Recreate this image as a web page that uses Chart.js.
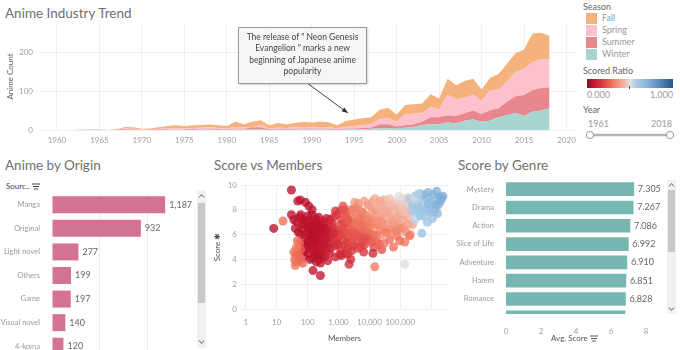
<!DOCTYPE html>
<html>
<head>
<meta charset="utf-8">
<script src="https://cdn.jsdelivr.net/npm/chart.js@4.4.1/dist/chart.umd.min.js"></script>
<style>
  body { margin: 0; width: 680px; height: 350px; overflow: hidden; background: #fff; position: relative;
         font-family: Lato, "Open Sans", sans-serif; }
  canvas { position: absolute; }
  .title { position: absolute; font-size: 13.5px; color: #707070; white-space: nowrap; line-height: 18px; }
  .small { position: absolute; font-size: 9px; color: #666; white-space: nowrap; line-height: 12px; }
  .swatch { position: absolute; left: 586px; width: 11px; height: 11px; }
  .note { position: absolute; left: 238px; top: 27px; width: 127px; height: 51px; border: 1px solid #9a9a9a;
          background: #f6f6f6; box-shadow: 1px 1px 2px rgba(0,0,0,0.18); text-align: center;
          font-size: 8.5px; line-height: 11.4px; color: #444; padding-top: 4px; box-sizing: content-box; }
  .track { position: absolute; width: 9px; background: #f1f1f1; }
  .thumb { position: absolute; left: 1px; width: 7px; background: #c8c8c8; }
</style>
</head>
<body>

<div class="title" style="left:5px; top:4px;">Anime Industry Trend</div>
<div class="title" style="left:5px; top:156px;">Anime by Origin</div>
<div class="title" style="left:214px; top:156px;">Score vs Members</div>
<div class="title" style="left:458px; top:156px;">Score by Genre</div>

<canvas id="trend" width="580" height="130" style="left:0; top:20px;"></canvas>
<div class="note">The release of " Neon Genesis<br>Evangelion " marks a new<br>beginning of Japanese anime<br>popularity</div>

<!-- legend -->
<div class="small" style="left:583px; top:1px; color:#666;">Season</div>
<div class="swatch" style="top:13px; background:#f5b27c;"></div>
<div class="small" style="left:602px; top:12px; color:#999;">Fall</div>
<div class="swatch" style="top:25px; background:#fdc1cc;"></div>
<div class="small" style="left:602px; top:24px; color:#999;">Spring</div>
<div class="swatch" style="top:37px; background:#e8888e;"></div>
<div class="small" style="left:602px; top:36px; color:#999;">Summer</div>
<div class="swatch" style="top:49px; background:#a9d5d0;"></div>
<div class="small" style="left:602px; top:48px; color:#999;">Winter</div>
<div class="small" style="left:583px; top:65px; color:#666;">Scored Ratio</div>
<div style="position:absolute; left:587px; top:79px; width:86px; height:9px;
     background:linear-gradient(to right,#a50026 0%,#c81e32 10%,#e14646 20%,#f0785f 30%,#f5af9b 42%,#e1dede 50%,#aacde6 58%,#87b4dc 70%,#28558c 100%);"></div>
<div style="position:absolute; left:629px; top:86px; width:1px; height:3px; background:#555;"></div>
<div class="small" style="left:587px; top:89px; color:#999;">0.000</div>
<div class="small" style="left:643px; top:89px; width:30px; text-align:right; color:#999;">1.000</div>
<div class="small" style="left:583px; top:104px; color:#666;">Year</div>
<div class="small" style="left:588px; top:118px; color:#999;">1961</div>
<div class="small" style="left:642px; top:118px; width:30px; text-align:right; color:#999;">2018</div>
<svg style="position:absolute; left:584px; top:129px;" width="94" height="12">
  <line x1="6" y1="6" x2="86" y2="6" stroke="#b5b5b5" stroke-width="2.5"/>
  <circle cx="6" cy="6" r="3.6" fill="#fff" stroke="#999" stroke-width="1"/>
  <circle cx="86" cy="6" r="3.6" fill="#fff" stroke="#999" stroke-width="1"/>
</svg>

<!-- origin -->
<div class="small" style="left:6px; top:180px; font-size:8px; color:#444;">Sourc..
  <svg width="8" height="7" style="vertical-align:middle"><path d="M0 1h8M1 3.5h6M2 6h4" stroke="#444" stroke-width="1"/></svg></div>
<canvas id="origin" width="195" height="165" style="left:0; top:193px;"></canvas>
<div class="track" style="left:197px; top:190px; height:158px;"></div>
<div class="thumb" style="left:198px; top:203px; height:100px;"></div>
<svg style="position:absolute; left:197px; top:192px;" width="9" height="8"><path d="M2 5.5l2.5-3 2.5 3" fill="none" stroke="#666" stroke-width="1"/></svg>
<svg style="position:absolute; left:197px; top:338px;" width="9" height="8"><path d="M2 2.5l2.5 3 2.5-3" fill="none" stroke="#666" stroke-width="1"/></svg>

<!-- scatter -->
<canvas id="scatter" width="250" height="172" style="left:205px; top:178px;"></canvas>

<!-- genre -->
<canvas id="genre" width="212" height="175" style="left:450px; top:175px;"></canvas>
<div class="track" style="left:667px; top:180px; height:134px;"></div>
<div class="thumb" style="left:668px; top:190px; height:62px;"></div>
<svg style="position:absolute; left:667px; top:181px;" width="9" height="8"><path d="M2 5.5l2.5-3 2.5 3" fill="none" stroke="#666" stroke-width="1"/></svg>
<svg style="position:absolute; left:667px; top:305px;" width="9" height="8"><path d="M2 2.5l2.5 3 2.5-3" fill="none" stroke="#666" stroke-width="1"/></svg>
<div class="small" style="left:551px; top:332px; font-size:8px; color:#555;">Avg. Score
  <svg width="8" height="7" style="vertical-align:middle"><path d="M0 1h8M1 3.5h6M2 6h4" stroke="#555" stroke-width="1"/></svg></div>

<script>
// ---- data: anime industry trend (count per season, per year) ----
const years  = [1961,1962,1963,1964,1965,1966,1967,1968,1969,1970,1971,1972,1973,1974,1975,1976,1977,1978,1979,1980,
                1981,1982,1983,1984,1985,1986,1987,1988,1989,1990,1991,1992,1993,1994,1995,1996,1997,1998,1999,2000,
                2001,2002,2003,2004,2005,2006,2007,2008,2009,2010,2011,2012,2013,2014,2015,2016,2017,2018];
const winter = [0,0,1,1,1,0,0,0,0,0,0,0,0,1,0,0,1,1,0,0, 1,1,1,2,0,1,0,1,1,1,1,1,0,1,2,2,3,4,4,5,
                6,8,13,15,15,19,17,24,27,21,24,33,38,44,36,47,50,56];
const summer = [0,0,0,0,0,0,1,1,1,0,1,1,1,1,1,2,1,2,2,1, 2,2,6,5,2,2,2,2,2,2,2,2,2,2,2,3,3,11,11,4,
                6,7,8,18,18,19,19,19,23,20,27,23,35,43,54,56,57,54];
const spring = [0,0,0,0,0,0,0,3,2,1,1,2,3,3,3,3,4,4,3,3, 5,4,1,6,2,3,3,4,5,4,5,4,2,5,6,7,9,13,15,13,
                28,27,22,27,20,52,43,40,40,34,52,48,51,63,66,72,74,71];
const fall   = [0,0,0,1,1,0,1,4,4,2,2,4,6,7,6,7,7,7,7,6, 13,8,13,12,8,12,10,11,13,12,14,13,8,15,17,18,18,24,27,18,
                24,24,25,32,28,42,36,43,42,29,31,40,47,47,51,73,69,61];
const trendXTicks = [1960,1965,1970,1975,1980,1985,1990,1995,2000,2005,2010,2015,2020];
const trendYTicks = [0, 100, 200];
const noteYear = 1994.3, noteValue = 43;

// ---- data: anime by origin ----
const origins = ['Manga', 'Original', 'Light novel', 'Others', 'Game', 'Visual novel', '4-koma'];
const originCounts = [1187, 932, 277, 199, 197, 140, 120];

// ---- data: score by genre ----
const genres = ['Mystery', 'Drama', 'Action', 'Slice of Life', 'Adventure', 'Harem', 'Romance', 'Comedy'];
const genreScores = [7.305, 7.267, 7.086, 6.992, 6.910, 6.851, 6.828, 6.80];
const genreTicks = [0, 2, 4, 6, 8];

// ---- data: score vs members, [members, score, scored ratio] ----
const memberTicks = [1, 10, 100, 1000, 10000, 100000, 1000000];
const scatterPoints = [
  [30,9.6,.05],[8,6.5,.06],[48,8.7,.06],[58,8.8,.07],[85,8.6,.05],[110,8.3,.06],[140,8.0,.07],[30,7.6,.06],[36,7.2,.05],
  [45,7.0,.08],[55,7.4,.06],[64,6.8,.09],[75,7.2,.05],[88,7.0,.07],[100,7.5,.06],[118,7.1,.08],[138,7.6,.05],[160,7.0,.06],
  [182,7.3,.09],[205,6.8,.07],[225,7.4,.05],[255,7.0,.08],[285,6.6,.06],[320,7.1,.1],[360,6.8,.07],[410,7.3,.09],[460,6.9,.11],
  [530,7.2,.1],[40,6.5,.07],[50,6.2,.05],[60,6.0,.08],[70,6.4,.06],[80,5.8,.05],[95,6.1,.07],[105,5.5,.06],[115,6.6,.05],
  [125,5.9,.08],[140,6.3,.06],[150,5.2,.07],[165,5.8,.05],[180,6.5,.08],[195,5.4,.06],[210,6.0,.07],[230,5.7,.05],[250,6.3,.09],
  [270,5.1,.06],[300,5.9,.08],[330,6.2,.07],[370,5.5,.1],[410,6.0,.08],[460,5.3,.11],[520,5.8,.09],[600,6.2,.12],[700,5.6,.12],
  [55,5.0,.08],[65,4.6,.06],[80,4.2,.07],[90,5.0,.05],[110,4.5,.06],[130,4.8,.08],[150,4.1,.05],[170,4.4,.07],[190,3.8,.06],
  [220,4.7,.08],[240,4.0,.05],[260,3.7,.07],[290,4.3,.06],[320,4.9,.09],[350,4.2,.08],[400,4.6,.1],[450,3.9,.09],[500,4.5,.11],
  [150,3.1,.06],[260,2.7,.07],[2200,3.6,.14],[2500,4.0,.13],[1600,4.5,.12],[800,4.2,.1],
  [110,5.1,.07],[130,5.6,.05],[145,6.8,.06],[170,5.0,.08],[200,5.3,.05],[240,6.7,.07],[275,5.6,.06],[300,4.7,.09],[340,5.2,.07],
  [380,6.5,.08],[430,5.0,.1],[480,6.4,.09],[560,4.9,.11],[650,6.6,.1],[750,5.1,.12],[850,6.0,.11],
  [120,6.2,.06],[135,5.3,.07],[155,6.0,.05],[175,5.5,.06],[190,6.9,.07],[215,5.0,.06],[235,6.4,.05],[265,5.9,.07],[290,6.5,.06],
  [310,5.4,.08],[350,6.0,.07],[390,5.7,.09],[95,5.3,.06],[75,6.9,.07],[60,7.6,.06],[100,6.6,.05],
  [70,5.2,.06],[85,4.8,.07],[120,4.0,.06],[180,4.7,.07],[210,4.3,.06],[280,5.0,.08],
  [40,3.5,.3],[42,3.8,.28],[45,4.1,.3],[43,4.4,.27],[48,4.7,.29],[50,3.9,.3],[52,4.3,.28],[55,5.3,.26],[38,4.0,.3],
  [47,5.5,.27],[60,4.8,.25],[70,3.7,.26],[36,4.6,.28],[16,7.1,.28],[44,5.0,.3],[58,4.1,.27],
  [600,6.9,.15],[700,7.4,.14],[800,6.4,.16],[950,5.7,.18],[900,7.6,.16],[1100,6.8,.2],[1300,7.2,.18],[1500,6.3,.22],[1800,7.8,.2],
  [2000,5.8,.25],[2300,6.9,.22],[2600,7.4,.28],[3000,6.0,.24],[3500,8.2,.3],[4000,5.5,.2],[4500,7.0,.26],[5000,6.5,.3],[6000,7.8,.28],
  [7000,5.2,.18],[8000,6.8,.3],[9000,8.4,.34],[10000,6.1,.27],[12000,7.3,.32],[14000,5.0,.2],[16000,8.0,.35],[1000,5.2,.16],
  [1200,4.8,.14],[1400,5.6,.2],[1700,6.6,.24],[2100,5.0,.18],[2700,4.7,.16],[3200,6.5,.27],[3800,7.7,.32],[4200,4.9,.2],
  [5500,5.9,.24],[6500,4.6,.15],[7500,7.1,.3],[9500,5.6,.22],[11000,6.6,.3],[13000,4.5,.12],[15000,3.4,.3],[18000,5.4,.26],
  [20000,7.6,.36],[22000,6.4,.3],[1150,7.9,.2],[2400,8.0,.3],[3300,8.6,.38],[25000,4.8,.22],[28000,8.3,.4],
  [1000,6.2,.18],[1300,6.0,.2],[1600,7.0,.22],[1900,5.4,.17],[2800,6.3,.25],[3600,5.8,.22],[4800,7.4,.3],[5800,6.2,.26],
  [7200,7.6,.33],[8500,5.8,.24],[10500,7.0,.33],[13500,6.0,.28],[17000,6.8,.32],[1250,4.3,.13],[2000,4.4,.15],[3000,5.1,.17],
  [6000,5.4,.2],[800,7.9,.15],[1400,8.3,.22],[4400,8.5,.35],[6800,8.7,.38],
  [1100,5.9,.19],[1350,6.6,.21],[1550,5.1,.17],[1750,7.4,.24],[2200,6.1,.22],[2500,5.4,.2],[2900,7.0,.27],[3400,6.2,.24],
  [3900,6.9,.29],[4300,5.9,.23],[4700,8.0,.33],[5200,5.0,.19],[5600,7.2,.3],[6300,6.7,.28],[6800,5.7,.22],[7800,6.4,.27],
  [8800,7.3,.33],[9800,6.8,.31],[11500,5.4,.24],[12500,7.9,.36],[14500,6.9,.33],[16500,5.9,.28],[19000,8.2,.4],[21000,5.2,.26],
  [23000,7.3,.37],[26000,7.8,.4],[29000,6.6,.34],[33000,7.3,.39],[38000,8.4,.43],[42000,6.4,.34],[48000,7.5,.41],[52000,8.2,.45],
  [58000,6.5,.35],[68000,8.6,.46],[72000,7.0,.4],[82000,8.3,.46],[88000,6.9,.38],[98000,7.7,.44],[105000,8.3,.47],[125000,6.6,.37],
  [145000,7.6,.45],[155000,8.7,.49],[175000,7.3,.43],[190000,8.1,.47],[3000,8.0,.32],[2000,7.2,.24],[1500,8.0,.22],[700,6.1,.13],
  [900,5.3,.14],[1100,4.4,.13],
  [12000,8.6,.38],[15000,8.9,.4],[20000,8.4,.42],[25000,7.0,.35],[30000,8.8,.42],[35000,6.2,.3],[40000,7.7,.4],[45000,5.6,.28],
  [50000,8.5,.44],[60000,6.9,.36],[70000,7.4,.42],[80000,5.9,.3],[90000,8.1,.45],[100000,6.5,.33],[110000,8.7,.47],[120000,7.2,.4],
  [140000,5.4,.3],[160000,8.3,.46],[180000,6.8,.38],[200000,7.8,.44],[30000,5.3,.28],[40000,6.8,.36],[55000,7.1,.38],[65000,8.0,.42],
  [75000,6.3,.32],[85000,7.5,.4],[95000,5.5,.28],[130000,7.9,.44],[150000,6.2,.34],[170000,9.0,.5],[140000,3.6,.5],[60000,5.0,.28],
  [35000,7.9,.4],[45000,8.9,.45],[25000,6.0,.32],[18000,7.0,.35],[22000,8.7,.4],[50000,6.0,.33],[120000,8.9,.48],[90000,9.1,.5],
  [230000,8.6,.48],[210000,6.0,.35],[200000,5.9,.3],[250000,6.8,.4],
  [200000,8.9,.58],[250000,8.4,.6],[300000,9.1,.62],[350000,7.8,.58],[400000,8.7,.64],[450000,9.3,.66],[500000,6.1,.62],
  [550000,8.2,.6],[600000,7.5,.58],[700000,8.9,.66],[800000,9.4,.7],[900000,8.0,.64],[1000000,8.6,.68],[1100000,7.3,.62],
  [1200000,9.2,.7],[1400000,8.4,.68],[1600000,7.7,.66],[1800000,9.0,.7],[2000000,8.7,.72],[1500000,9.5,.7],[2200000,8.9,.7],
  [600000,9.2,.68],[300000,7.2,.55],[250000,7.9,.58],[350000,8.3,.6],[750000,7.0,.6],[950000,7.8,.62],[450000,7.5,.6],
  [650000,8.0,.62],[1300000,8.0,.66],[1700000,8.4,.7],[2400000,9.1,.72],[400000,8.1,.6],[800000,8.5,.66],
  [320000,8.8,.55],[280000,9.0,.52],[380000,9.3,.56]
];

// diverging red-blue colour for the scored ratio
const ratioStops = [[0,[165,0,38]],[0.1,[200,30,50]],[0.2,[225,70,70]],[0.3,[240,120,95]],[0.42,[245,175,155]],
                    [0.5,[225,222,222]],[0.58,[165,202,230]],[0.7,[130,178,220]],[1,[40,85,140]]];
function ratioColor(r, alpha) {
    for (let i = 1; i < ratioStops.length; i++) {
        const [p1, c1] = ratioStops[i], [p0, c0] = ratioStops[i - 1];
        if (r <= p1) {
            const t = (r - p0) / (p1 - p0);
            const c = c0.map((v, k) => Math.round(v + (c1[k] - v) * t));
            return `rgba(${c[0]},${c[1]},${c[2]},${alpha})`;
        }
    }
    return `rgba(40,85,140,${alpha})`;
}

const tickFont = { family: 'Lato', size: 8 };
const catFont = { family: 'Lato', size: 7.5 };
const tickColor = '#a0a0a0';
const titleFont = { family: 'Lato', size: 8 };

// keep first/last tick labels from pushing the plot area in
function noLabelPad(s) { s.paddingTop = 0; s.paddingBottom = 0; s.paddingLeft = 0; s.paddingRight = 0; }

// value labels at the end of horizontal bars
const barLabels = {
    id: 'barLabels',
    afterDatasetsDraw(chart, args, opts) {
        const ctx = chart.ctx;
        const ds = chart.data.datasets[0];
        ctx.save();
        ctx.font = '9px Lato';
        ctx.fillStyle = '#666';
        ctx.textBaseline = 'middle';
        chart.getDatasetMeta(0).data.forEach((bar, i) => {
            if (opts.clip && bar.y > chart.chartArea.bottom) return;
            const v = typeof ds.data[i] === 'object' ? ds.data[i].x : ds.data[i];
            ctx.fillText(opts.format(v), bar.x + 4, bar.y);
        });
        ctx.restore();
    }
};

// arrow from the note box to the 1995 point
const noteArrow = {
    id: 'noteArrow',
    afterDraw(chart) {
        const { ctx, scales: { x, y } } = chart;
        const tx = x.getPixelForValue(noteYear), ty = y.getPixelForValue(noteValue);
        const sx = 303, sy = 60;
        const ang = Math.atan2(ty - sy, tx - sx);
        ctx.save();
        ctx.strokeStyle = '#444';
        ctx.fillStyle = '#333';
        ctx.lineWidth = 1;
        ctx.beginPath();
        ctx.moveTo(sx, sy);
        ctx.lineTo(tx - 5 * Math.cos(ang), ty - 5 * Math.sin(ang));
        ctx.stroke();
        ctx.beginPath();
        ctx.moveTo(tx, ty);
        ctx.lineTo(tx - 7 * Math.cos(ang - 0.35), ty - 7 * Math.sin(ang - 0.35));
        ctx.lineTo(tx - 7 * Math.cos(ang + 0.35), ty - 7 * Math.sin(ang + 0.35));
        ctx.closePath();
        ctx.fill();
        ctx.restore();
    }
};

// Anime industry trend - stacked area
const seasonSeries = [
    { label: 'Winter', data: winter, color: '#a9d5d0' },
    { label: 'Summer', data: summer, color: '#e8888e' },
    { label: 'Spring', data: spring, color: '#fdc1cc' },
    { label: 'Fall',   data: fall,   color: '#f5b27c' }
];
new Chart(document.getElementById('trend'), {
    type: 'line',
    data: {
        datasets: seasonSeries.map((s, i) => ({
            label: s.label,
            data: s.data.map((v, k) => ({ x: years[k], y: v })),
            backgroundColor: s.color,
            borderColor: 'rgba(0,0,0,0)',
            borderWidth: 0,
            pointRadius: 0,
            tension: 0,
            fill: i === 0 ? 'origin' : '-1'
        }))
    },
    options: {
        responsive: false,
        animation: false,
        layout: { padding: { top: 3, right: 5 } },
        plugins: { legend: { display: false }, tooltip: { enabled: false } },
        scales: {
            x: {
                type: 'linear', min: 1958, max: 2021,
                afterBuildTicks: s => { s.ticks = trendXTicks.map(v => ({ value: v })); },
                ticks: { font: tickFont, color: tickColor, padding: 6, callback: v => String(v), maxRotation: 0 },
                grid: { color: '#f0f0f0', drawTicks: false },
                border: { display: false },
                afterFit: s => { s.height = 20; noLabelPad(s); }
            },
            y: {
                stacked: true, min: 0, max: 275,
                afterBuildTicks: s => { s.ticks = trendYTicks.map(v => ({ value: v })); },
                ticks: { font: tickFont, color: tickColor, padding: 7 },
                grid: { color: '#f0f0f0', drawTicks: false },
                border: { display: false },
                title: { display: true, text: 'Anime Count', font: titleFont, color: '#666', padding: { top: 6, bottom: 0 } },
                afterFit: s => { s.width = 40; noLabelPad(s); }
            }
        }
    },
    plugins: [noteArrow]
});

// Anime by origin
new Chart(document.getElementById('origin'), {
    type: 'bar',
    data: {
        labels: origins,
        datasets: [{ data: originCounts, backgroundColor: '#d37295', categoryPercentage: 0.9, barPercentage: 0.8 }]
    },
    options: {
        indexAxis: 'y',
        responsive: false,
        animation: false,
        layout: { padding: 0 },
        plugins: {
            legend: { display: false }, tooltip: { enabled: false },
            barLabels: { format: v => v.toLocaleString('en-US') }
        },
        scales: {
            x: {
                min: 0, max: 1500,
                ticks: { display: false, stepSize: 500 },
                grid: { drawTicks: false, color: c => (c.tick && (c.tick.value === 500 || c.tick.value === 1000)) ? '#ececec' : 'rgba(0,0,0,0)' },
                border: { display: false },
                afterFit: s => { s.height = 0; noLabelPad(s); }
            },
            y: {
                ticks: { font: catFont, color: '#999', padding: 4 },
                grid: { display: false },
                border: { display: false },
                afterFit: s => { s.width = 52; noLabelPad(s); }
            }
        }
    },
    plugins: [barLabels]
});

// Score vs members
new Chart(document.getElementById('scatter'), {
    type: 'scatter',
    data: {
        datasets: [{
            data: scatterPoints.map(p => ({ x: p[0], y: p[1] })),
            pointBackgroundColor: scatterPoints.map(p => ratioColor(p[2], 0.78)),
            pointBorderWidth: 0,
            pointRadius: 4.5
        }]
    },
    options: {
        responsive: false,
        animation: false,
        layout: { padding: { top: 7, right: 7 } },
        plugins: { legend: { display: false }, tooltip: { enabled: false } },
        scales: {
            x: {
                type: 'logarithmic', min: 0.74, max: 3.5e6,
                afterBuildTicks: s => { s.ticks = memberTicks.map(v => ({ value: v })); },
                ticks: { font: tickFont, color: tickColor, padding: 9, maxRotation: 0, autoSkip: false,
                         callback: v => v >= 1e6 ? '' : Number(v).toLocaleString('en-US') },
                grid: { color: '#f0f0f0', drawTicks: false },
                border: { display: false },
                title: { display: true, text: 'Members', font: titleFont, color: '#555', padding: { top: 0, bottom: 7 } },
                afterFit: s => { s.height = 41; noLabelPad(s); }
            },
            y: {
                min: 0, max: 10,
                ticks: { stepSize: 2, font: tickFont, color: tickColor, padding: 4 },
                grid: { color: '#f0f0f0', drawTicks: false },
                border: { display: false },
                title: { display: true, text: 'Score ✱', font: titleFont, color: '#555', padding: { top: 8, bottom: 0 } },
                afterFit: s => { s.width = 36; noLabelPad(s); }
            }
        }
    }
});

// Score by genre
new Chart(document.getElementById('genre'), {
    type: 'bar',
    data: {
        datasets: [{
            data: genreScores.map((v, i) => ({ x: v, y: i })),
            backgroundColor: '#76b7b2',
            barThickness: 13
        }]
    },
    options: {
        indexAxis: 'y',
        responsive: false,
        animation: false,
        layout: { padding: { top: 5, right: 2 } },
        plugins: {
            legend: { display: false }, tooltip: { enabled: false },
            barLabels: { format: v => v.toFixed(3), clip: true }
        },
        scales: {
            x: {
                type: 'linear', min: 0, max: 8.8,
                afterBuildTicks: s => { s.ticks = genreTicks.map(v => ({ value: v })); },
                ticks: { font: tickFont, color: tickColor, padding: 5 },
                grid: { display: false },
                border: { display: false },
                afterFit: s => { s.height = 36; noLabelPad(s); }
            },
            y: {
                type: 'linear', min: -0.5, max: 6.82, reverse: true, offset: false,
                afterBuildTicks: s => { s.ticks = genres.map((g, i) => ({ value: i })).filter(t => t.value <= 6.82); },
                ticks: { font: catFont, color: '#999', padding: 4, autoSkip: false, callback: v => genres[v] },
                grid: { display: false, offset: false },
                border: { display: false },
                afterFit: s => { s.width = 56; noLabelPad(s); }
            }
        }
    },
    plugins: [barLabels]
});
</script>
</body>
</html>
